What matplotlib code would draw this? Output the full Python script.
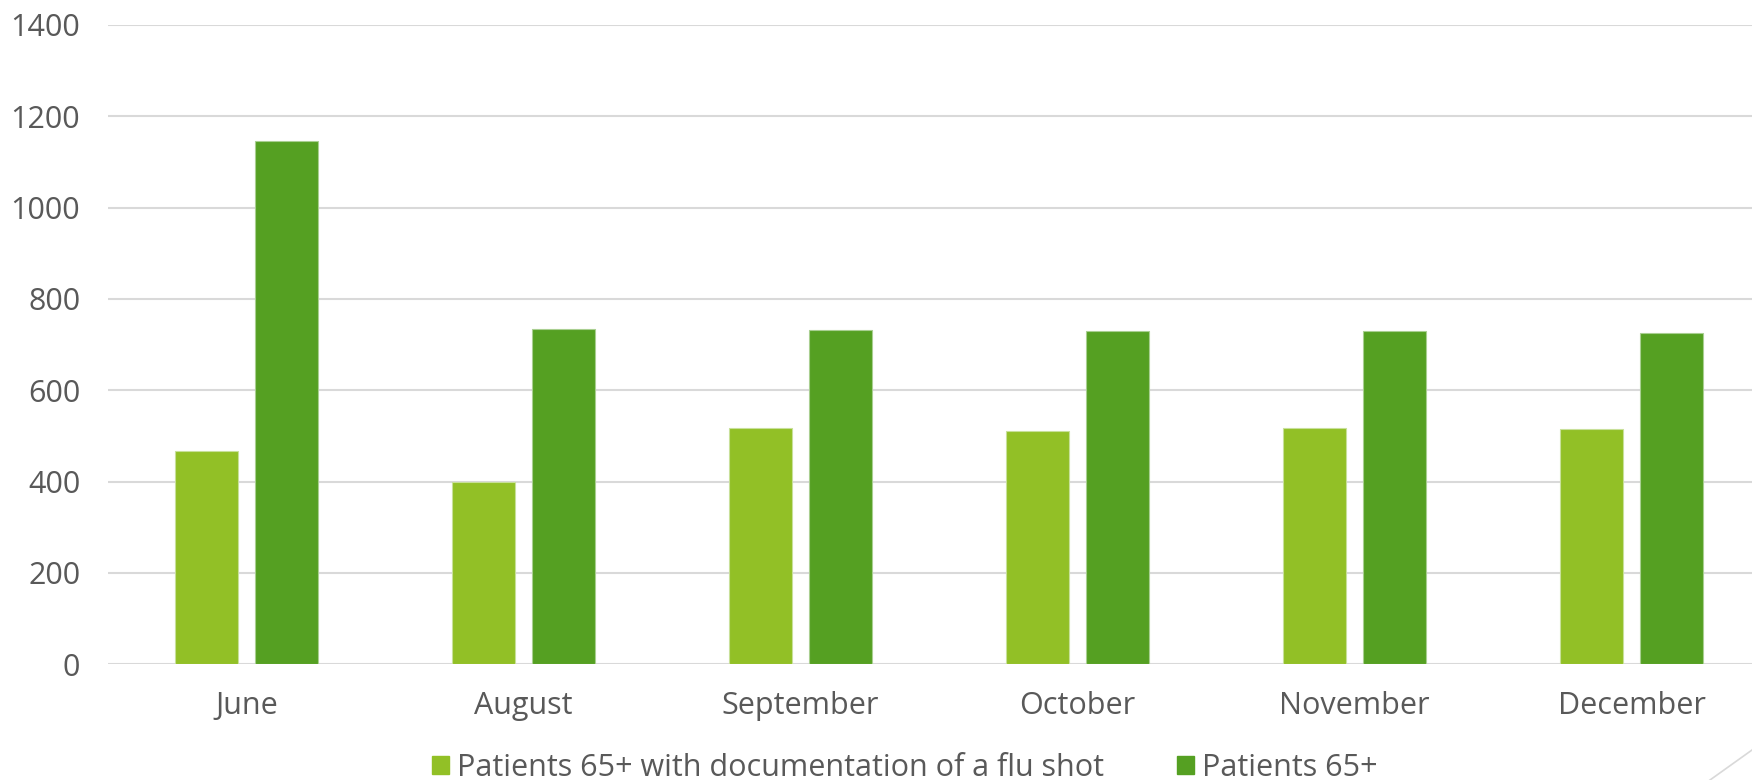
import numpy as np
import matplotlib.pyplot as plt
from matplotlib.lines import Line2D

months = ['June', 'August', 'September', 'October', 'November', 'December']
flu_shot = [468, 399, 517, 511, 518, 516]
patients_65 = [1145, 734, 733, 729, 729, 726]
series_names = ['Patients 65+ with documentation of a flu shot', 'Patients 65+']

light_green = '#92C026'
dark_green = '#55A022'
text_grey = '#595959'

plt.rcParams['font.family'] = ['Open Sans', 'DejaVu Sans']

fig = plt.figure(figsize=(17.52, 7.8), dpi=100)
# plot area runs slightly past the right edge of the figure, as in the original
ax = fig.add_axes([108 / 1752, 1 - 664.3 / 780, (1770 - 108) / 1752, (664.3 - 25) / 780])

x = np.arange(len(months))
width = 0.226
offset = 0.144
ax.bar(x - offset, flu_shot, width, color=light_green, edgecolor='#C8E09A',
       linewidth=0.8, label=series_names[0], zorder=3)
ax.bar(x + offset, patients_65, width, color=dark_green, edgecolor='#A9CF91',
       linewidth=0.8, label=series_names[1], zorder=3)

ax.set_xlim(-0.5, len(months) - 0.5)
ax.set_ylim(0, 1400)
ax.set_yticks(np.arange(0, 1401, 200))
ax.set_xticks(x)
ax.set_xticklabels(months)

ax.grid(axis='y', color='#D9D9D9', linewidth=1.5, zorder=0)
for side in ['top', 'right', 'left', 'bottom']:
    ax.spines[side].set_visible(False)
ax.tick_params(axis='both', length=0, labelsize=22, colors=text_grey)
ax.tick_params(axis='y', pad=20)
ax.tick_params(axis='x', pad=19.5)

handles = [plt.Rectangle((0, 0), 1, 1, color=light_green),
           plt.Rectangle((0, 0), 1, 1, color=dark_green)]
fig.legend(handles, series_names, loc='center', bbox_to_anchor=(905 / 1752, 1 - 768 / 780),
           ncol=2, frameon=False, fontsize=22, labelcolor=text_grey,
           handlelength=0.55, handleheight=0.55, handletextpad=0.26, columnspacing=2.4)

# decorative corner line
fig.add_artist(Line2D([1710 / 1752, 1.0], [0.0, 30 / 780], transform=fig.transFigure,
                      color='#D9D9D9', linewidth=1.2))

fig.savefig('out.png', dpi=100, facecolor='white')
